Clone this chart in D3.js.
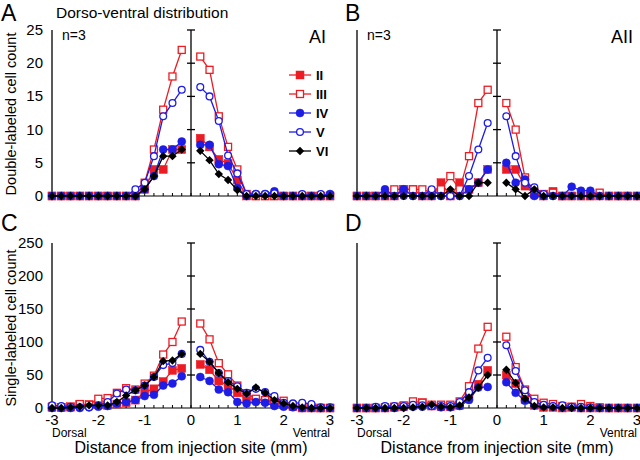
<!DOCTYPE html>
<html><head><meta charset="utf-8">
<script src="https://cdn.jsdelivr.net/npm/d3@7"></script>
<style>body{margin:0;background:#fff}svg{display:block}text{font-family:"Liberation Sans",Arial,sans-serif}</style>
</head><body><svg id="c" width="640" height="460"></svg>
<script>
// distances (mm) of sample bins, left (dorsal) then right (ventral)
const distances = [-3,-2.8,-2.6,-2.4,-2.2,-2,-1.8,-1.6,-1.4,-1.2,-1,-0.8,-0.6,-0.4,-0.2,
                   0.2,0.4,0.6,0.8,1,1.2,1.4,1.6,1.8,2,2.2,2.4,2.6,2.8,3];
const layers = ["II","III","IV","V","VI"];
const xTicks = [-3,-2,-1,0,1,2,3];
const yTicksDouble = [0,5,10,15,20,25];
const yTicksSingle = [0,50,100,150,200,250];

// Panel A: double-labeled, AI
const aII  = [0,0,0,0,0,0,0,0,0,0,1,4,4,7,7,           8.7,7.4,5.5,4.9,2.4,0,0,0,0,0,0,0,0,0,0];
const aIII = [0,0,0,0,0,0,0,0,0,0,2,7,13,18,22,        21,19,12,7.4,4,0.3,0,0,0,0,0,0,0,0,0];
const aIV  = [0,0,0,0,0,0,0,0,0,0,1,3,7,7,8.2,         7.7,7.7,4.8,4.5,1.2,0,0.3,0.3,0.7,0,0,0,0,0,0.3];
const aV   = [0,0,0,0,0,0,0,0,0,1,2,6,12,14,16,        16.4,15,11.3,6.1,3.4,0.3,0.3,0.3,0.4,0,0,0.3,0,0.3,0];
const aVI  = [0,0,0,0,0,0,0,0,0,0,1,3,6,6,7,           6.8,5.4,3.3,2.4,0.9,0,0,0,0,0,0,0,0,0,0];
// Panel B: double-labeled, AII
const bII  = [0,0,0,0,0,1,1,0,0,2,0,2,1,2,4,           4,4,1.5,0.3,0,0.7,0,0,0,0,0,0,0,0,0];
const bIII = [0,0,0,0,1,1,1,1,0.5,1,3,1,6,14,16,       14,10,2.8,0.6,0.3,0.5,0,0,0,0,0.5,0,0,0,0];
const bIV  = [0,0,0,1,0,1,0,0,0,0,0,0,1,2,4,           5,2,2.5,0,0,0,0,1.4,0.8,0.8,0,0,0,0,0];
const bV   = [0,0,0,0,0,0,0,0,1,0,0,0,3,7,11,          12,6,2,1.3,0.3,0,0,0,0,0,0,0,0,0,0];
const bVI  = [0,0,0,0,0,0,0,0,0,0,1,0,0,2,2,           2,1,0,1,0,0,0,0,0,0,0,0,0,0,0];
// Panel C: single-labeled, AI
const cII  = [1,1,2,5,5,5,4,6,8,12,24,29,40,57,60,     66,58,41,34,23,14,13,11,8,6,2,0,0,0,0];
const cIII = [2,1,1,6,5,14,15,23,30,28,37,49,81,100,131, 128,104,68,51,34,22,14,12,11,11,4,2,1,0,0];
const cIV  = [0,0,0,0,1,2,3,7,9,12,18,20,34,37,48,     47,41,28,24,9,7,9,8,3,2,1,0,0,0,0];
const cV   = [4,3,2,1,1,4,9,22,28,27,34,47,65,68,82,   88,70,53,41,33,23,29,24,18,8,7,8,6,1,1];
const cVI  = [0,0,1,2,4,4,4,9,19,27,34,47,71,72,82,    82,70,53,39,29,22,31,23,12,7,3,1,0,0,0];
// Panel D: single-labeled, AII
const dII  = [0,0,0,0,1,2,4,8,3,2,2,4,18,36,57,        50,37,13,4,1,1,0,1,0,0,0,0,0,0,0];
const dIII = [0,0,0,1,2,4,10,8,5,5,5,10,33,90,123,     108,62,28,14,8,6,3,2,6,3,1,0,0,0,0];
const dIV  = [0,0,0,0,0,1,2,2,3,1,1,3,12,31,32,        39,23,11,4,3,2,1,1,0,0,0,0,0,0,0];
const dV   = [0,0,2,3,3,3,5,4,3,3,3,9,24,57,76,        95,56,27,9,5,3,4,2,2,1,0,0,0,0,0];
const dVI  = [0,0,0,0,0,0,1,2,5,2,1,4,16,31,50,        58,38,14,3,1,1,0,0,0,0,0,0,0,0,0];

const RED = "#ec1c24", BLUE = "#1d1de6", BLK = "#000";
const style = {
  II:  {color: RED,  shape: "square",  fill: true},
  III: {color: RED,  shape: "square",  fill: false},
  IV:  {color: BLUE, shape: "circle",  fill: true},
  V:   {color: BLUE, shape: "circle",  fill: false},
  VI:  {color: BLK,  shape: "diamond", fill: true}
};

const svg = d3.select("#c");

function drawMarker(g, shape, color, fill, cx, cy) {
  if (shape === "square") {
    const s = fill ? 8 : 7;
    g.append("rect").attr("x", cx - s/2).attr("y", cy - s/2).attr("width", s).attr("height", s)
      .attr("fill", fill ? color : "#fff").attr("stroke", color).attr("stroke-width", fill ? 0.5 : 1.3);
  } else if (shape === "circle") {
    g.append("circle").attr("cx", cx).attr("cy", cy).attr("r", fill ? 4 : 3.4)
      .attr("fill", fill ? color : "#fff").attr("stroke", color).attr("stroke-width", fill ? 0.5 : 1.3);
  } else {
    const r = 4.2;
    g.append("path").attr("d", `M${cx},${cy-r}L${cx+r},${cy}L${cx},${cy+r}L${cx-r},${cy}Z`).attr("fill", color);
  }
}

function panel(opt) {
  const x = d3.scaleLinear().domain([-3, 3]).range(opt.xr);
  const y = d3.scaleLinear().domain([0, opt.ymax]).range(opt.yr);
  const g = svg.append("g");
  g.append("line").attr("x1", x(-3)).attr("x2", x(-3)).attr("y1", y(0)).attr("y2", y(opt.ymax)).attr("stroke", "#000").attr("stroke-width", 1.3);
  g.append("line").attr("x1", x(-3)).attr("x2", x(3)).attr("y1", y(0)).attr("y2", y(0)).attr("stroke", "#000").attr("stroke-width", 1);
  d3.range(-30, 31, 2).forEach(k => {
    const v = k / 10;
    g.append("line").attr("x1", x(v)).attr("x2", x(v)).attr("y1", y(0)).attr("y2", y(0) - 3).attr("stroke", "#000");
  });
  g.append("line").attr("x1", x(0)).attr("x2", x(0)).attr("y1", y(0)).attr("y2", y(opt.ymax)).attr("stroke", "#000").attr("stroke-width", 1.3);
  opt.yticks.slice(1).forEach(t => {
    g.append("line").attr("x1", x(0) - 4).attr("x2", x(0) + 4).attr("y1", y(t)).attr("y2", y(t)).attr("stroke", "#000").attr("stroke-width", 1.3);
  });
  if (opt.ylabels) {
    opt.yticks.forEach(t => {
      g.append("text").attr("x", x(-3) - 9).attr("y", y(t) + 5).attr("text-anchor", "end").attr("font-size", 15).text(t);
    });
  }
  if (opt.xlabels) {
    xTicks.forEach(t => {
      g.append("text").attr("x", x(t)).attr("y", y(0) + 17).attr("text-anchor", "middle").attr("font-size", 15).text(t);
    });
    g.append("text").attr("x", x(-3)).attr("y", y(0) + 29).attr("font-size", 12).text("Dorsal");
    g.append("text").attr("x", x(3)).attr("y", y(0) + 29).attr("text-anchor", "end").attr("font-size", 12).text("Ventral");
    g.append("text").attr("x", x(0)).attr("y", y(0) + 45).attr("text-anchor", "middle").attr("font-size", 16).text("Distance from injection site (mm)");
  }
  layers.forEach((name, i) => {
    const vals = opt.series[i];
    const st = style[name];
    const pts = distances.map((d, j) => ({d, v: vals[j]}));
    const line = d3.line().x(p => x(p.d)).y(p => y(p.v));
    [pts.filter(p => p.d < 0), pts.filter(p => p.d > 0)].forEach(seg => {
      g.append("path").attr("d", line(seg)).attr("fill", "none").attr("stroke", st.color).attr("stroke-width", 1.3);
    });
    pts.forEach(p => drawMarker(g, st.shape, st.color, st.fill, x(p.d), y(p.v)));
  });
  g.append("text").attr("x", opt.letterX).attr("y", opt.letterY).attr("font-size", 23).text(opt.letter);
  if (opt.area) {
    g.append("text").attr("x", x(3) - 4).attr("y", 43).attr("text-anchor", "end").attr("font-size", 18).text(opt.area);
    g.append("text").attr("x", x(-3) + 10).attr("y", 40).attr("font-size", 14).text("n=3");
  }
}

panel({xr: [52, 330], yr: [196, 30], ymax: 25, yticks: yTicksDouble, ylabels: true, xlabels: false,
  series: [aII, aIII, aIV, aV, aVI], letter: "A", letterX: 1, letterY: 21, area: "AI"});
panel({xr: [357, 637], yr: [196, 30], ymax: 25, yticks: yTicksDouble, ylabels: false, xlabels: false,
  series: [bII, bIII, bIV, bV, bVI], letter: "B", letterX: 345, letterY: 21, area: "AII"});
panel({xr: [52, 330], yr: [408, 243], ymax: 250, yticks: yTicksSingle, ylabels: true, xlabels: true,
  series: [cII, cIII, cIV, cV, cVI], letter: "C", letterX: 1, letterY: 231});
panel({xr: [357, 637], yr: [408, 243], ymax: 250, yticks: yTicksSingle, ylabels: false, xlabels: true,
  series: [dII, dIII, dIV, dV, dVI], letter: "D", letterX: 345, letterY: 231});

svg.append("text").attr("x", 56).attr("y", 18).attr("font-size", 15.5).text("Dorso-ventral distribution");
svg.append("text").attr("transform", "translate(16,114) rotate(-90)").attr("text-anchor", "middle").attr("font-size", 14.5).text("Double-labeled cell count");
svg.append("text").attr("transform", "translate(16,328) rotate(-90)").attr("text-anchor", "middle").attr("font-size", 14.5).text("Single-labeled cell count");

const leg = svg.append("g");
layers.forEach((name, i) => {
  const st = style[name];
  const ly = 75 + i * 19;
  leg.append("line").attr("x1", 289).attr("x2", 311).attr("y1", ly).attr("y2", ly).attr("stroke", st.color).attr("stroke-width", 1.3);
  drawMarker(leg, st.shape, st.color, st.fill, 300, ly);
  leg.append("text").attr("x", 316).attr("y", ly + 5).attr("font-size", 13).attr("font-weight", "bold").text(name);
});
</script></body></html>
